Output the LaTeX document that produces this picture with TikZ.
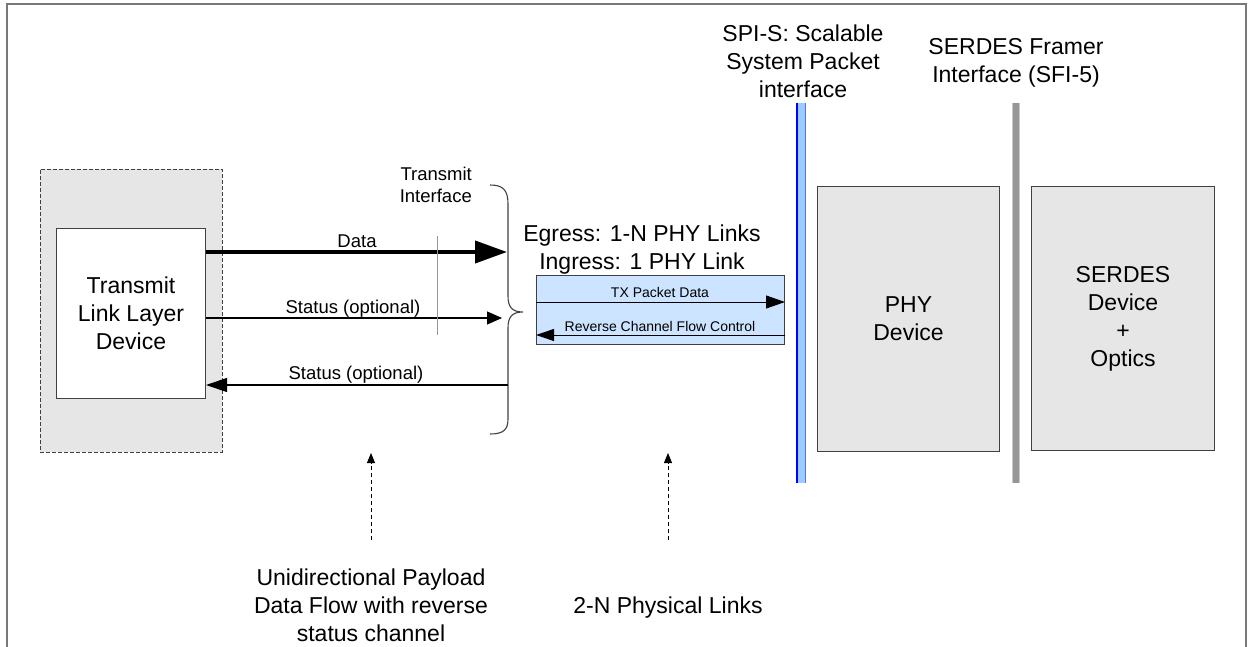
\documentclass[tikz,border=0pt]{standalone}
\usepackage{fontspec}
\setmainfont{Liberation Sans}
\usetikzlibrary{arrows.meta}

\definecolor{panelgray}{RGB}{230,230,230}
\definecolor{edgegray}{RGB}{64,64,64}
\definecolor{framegray}{RGB}{120,120,120}
\definecolor{tickgray}{RGB}{150,150,150}
\definecolor{linkfill}{RGB}{204,228,255}
\definecolor{spifill}{RGB}{153,204,255}
\definecolor{spiedge}{RGB}{0,0,255}
\definecolor{spiedgeb}{RGB}{90,110,255}
\definecolor{sfidark}{RGB}{150,150,150}
\definecolor{sfilight}{RGB}{200,200,200}

\tikzset{
  bigtext/.style={font=\fontsize{23}{28}\selectfont},
  midtext/.style={font=\fontsize{18.5}{22}\selectfont},
  smalltext/.style={font=\fontsize{14}{17}\selectfont},
  devbox/.style={draw=edgegray, line width=1pt, fill=panelgray, inner sep=0pt,
                 anchor=north west, align=center, bigtext},
  label/.style={inner sep=0pt, anchor=base},
  heading/.style={inner sep=0pt, anchor=north, align=center, bigtext},
  thinarrow/.style={line width=1.2pt},
  hintarrow/.style={line width=0.8pt, dash pattern=on 4pt off 3pt,
                    -{Triangle[length=10pt,width=8pt]}},
}

\begin{document}
\begin{tikzpicture}[x=1pt,y=-1pt]
\useasboundingbox (0,0) rectangle (1249,647);

% outer frame (open at the bottom)
\draw[framegray, line width=1.5pt] (7,647) -- (7,4) -- (1246,4) -- (1246,647);

% link layer device: shaded dashed panel with the device box on it
\node[draw=edgegray, fill=panelgray, line width=0.8pt, dash pattern=on 4pt off 2pt,
      minimum width=182pt, minimum height=283pt, inner sep=0pt, anchor=north west]
      (tlpanel) at (40,169) {};
\node[devbox, fill=white, minimum width=149pt, minimum height=170pt]
      (tld) at (56,228) {Transmit\\Link Layer\\Device};

% PHY and SERDES devices
\node[devbox, minimum width=182pt, minimum height=265pt] (phy) at (817,186) {PHY\\Device};
\node[devbox, minimum width=183pt, minimum height=264pt] (serdes) at (1031,186)
      {SERDES\\Device\\+\\Optics};

% interface bars
\fill[spifill] (797,103) rectangle (805,483);
\draw[spiedge, line width=1.2pt] (797,103) -- (797,483);
\draw[spiedgeb, line width=1pt] (805,103) -- (805,483);
\fill[sfidark] (1013,103) rectangle (1019,483);
\draw[sfilight, line width=1pt] (1012.5,103) -- (1012.5,483);
\draw[sfilight, line width=1pt] (1019.5,103) -- (1019.5,483);

% interface headings
\node[heading] (spihead) at (803,25) {SPI-S: Scalable\\System Packet\\interface};
\node[heading] (sfihead) at (1016,38) {SERDES Framer\\Interface (SFI-5)};

% transmit interface brace
\coordinate (dataEnd) at (507,252);
\coordinate (st1End) at (502,318);
\coordinate (st2Start) at (508,385);
\draw[edgegray, line width=1.1pt]
  (490,185) .. controls (503,185) and (508,190) .. (508,204) -- (508,296)
  .. controls (508,307) and (512,312) .. (523,312)
  .. controls (512,312) and (508,317) .. (508,328) -- (508,419)
  .. controls (508,430) and (503,434) .. (490,434);
\node[midtext, inner sep=0pt, anchor=north east, align=right] (txif) at (472,167)
      {Transmit\\Interface};

% data and status signals
\draw[line width=4pt, -{Triangle[length=32pt,width=22pt]}] (tld.east |- dataEnd) -- (dataEnd);
\node[label, midtext] (datalbl) at (357,247) {Data};
\draw[thinarrow, -{Triangle[length=15pt,width=13pt]}] (tld.east |- st1End) -- (st1End);
\node[label, midtext] (st1lbl) at (353,313) {Status (optional)};
\draw[thinarrow, -{Triangle[length=21pt,width=14pt]}] (st2Start) -- (tld.east |- st2Start);
\node[label, midtext] (st2lbl) at (356,379) {Status (optional)};

% divider across the forward signals
\coordinate (tickTop) at (437,236);
\coordinate (tickBot) at (437,335);
\draw[tickgray, line width=0.8pt] (tickTop) -- (tickBot);

% physical link bundle
\node[heading] (linkhead) at (642,225) {Egress: 1-N PHY Links\\Ingress: 1 PHY Link};
\node[draw=edgegray, line width=1pt, fill=linkfill, minimum width=248pt, minimum height=69pt,
      inner sep=0pt, anchor=north west] (link) at (536,275) {};
\coordinate (txRow) at (660,302);
\coordinate (rxRow) at (660,335);
\draw[line width=1pt, -{Triangle[length=19pt,width=13pt]}] (link.west |- txRow) -- (link.east |- txRow);
\node[label, smalltext] (txlbl) at (660,297) {TX Packet Data};
\draw[line width=1pt, -{Triangle[length=18pt,width=12pt]}] (link.east |- rxRow) -- (link.west |- rxRow);
\node[label, smalltext] (rxlbl) at (660,331) {Reverse Channel Flow Control};

% notes underneath
\coordinate (uniHead) at (371,453);
\coordinate (uniFoot) at (371,540);
\coordinate (phyHead) at (668,453);
\coordinate (phyFoot) at (668,540);
\draw[hintarrow] (uniFoot) -- (uniHead);
\draw[hintarrow] (phyFoot) -- (phyHead);
\node[heading] (uninote) at (371,569)
      {Unidirectional Payload\\Data Flow with reverse\\status channel};
\node[label, bigtext] (physnote) at (668,613) {2-N Physical Links};
\end{tikzpicture}
\end{document}
